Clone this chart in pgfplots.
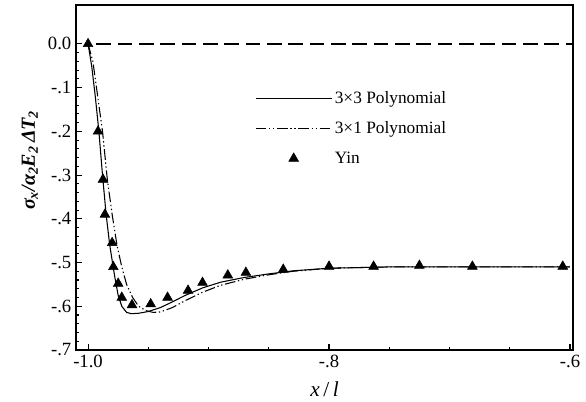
\documentclass[border=0pt]{standalone}
\usepackage{pgfplots}
\pgfplotsset{compat=1.18}
\usepackage{fontspec}
\setmainfont{Liberation Serif}

\pgfplotstableread{
x y
-1.000 0.000
-0.9917 -0.200
-0.9876 -0.310
-0.9860 -0.390
-0.9800 -0.455
-0.9790 -0.510
-0.9750 -0.548
-0.9720 -0.580
-0.9635 -0.597
-0.9480 -0.595
-0.9340 -0.580
-0.9170 -0.564
-0.9050 -0.546
-0.8840 -0.529
-0.8690 -0.523
-0.8380 -0.516
-0.8000 -0.509
-0.7630 -0.509
-0.7250 -0.507
-0.6810 -0.509
-0.6060 -0.509
}\yin

\pgfplotstableread{
x y
-1.000 0.000
-0.997 -0.050
-0.994 -0.120
-0.991 -0.200
-0.988 -0.300
-0.985 -0.390
-0.982 -0.460
-0.978 -0.530
-0.975 -0.575
-0.972 -0.600
-0.968 -0.614
-0.964 -0.617
-0.958 -0.616
-0.950 -0.612
-0.940 -0.603
-0.930 -0.590
-0.920 -0.576
-0.905 -0.558
-0.890 -0.545
-0.870 -0.534
-0.850 -0.526
-0.830 -0.519
-0.800 -0.513
-0.750 -0.510
-0.700 -0.510
-0.600 -0.510
}\polyA

\pgfplotstableread{
x y
-1.000 0.000
-0.996 -0.040
-0.992 -0.120
-0.988 -0.200
-0.984 -0.310
-0.980 -0.390
-0.976 -0.460
-0.972 -0.510
-0.968 -0.550
-0.963 -0.580
-0.958 -0.600
-0.952 -0.610
-0.946 -0.614
-0.940 -0.613
-0.930 -0.603
-0.920 -0.588
-0.905 -0.568
-0.890 -0.552
-0.870 -0.538
-0.850 -0.528
-0.830 -0.520
-0.800 -0.513
-0.750 -0.510
-0.700 -0.510
-0.600 -0.510
}\polyB

\begin{document}
\begin{tikzpicture}
\begin{axis}[
  name=ax,
  scale only axis,
  width=372.75pt, height=258.75pt,
  xmin=-1.01, xmax=-0.5975,
  ymin=-0.7, ymax=0.089,
  axis line style={line width=1pt},
  tick align=inside,
  xtick pos=bottom, ytick pos=left,
  xtick={-1,-0.8,-0.6},
  xticklabels={-1.0,-.8,-.6},
  minor x tick num=3,
  ytick={0,-0.1,-0.2,-0.3,-0.4,-0.5,-0.6,-0.7},
  yticklabels={0.0,-.1,-.2,-.3,-.4,-.5,-.6,-.7},
  minor y tick num=4,
  major tick length=4.5pt, minor tick length=2.5pt,
  every tick/.style={line width=0.8pt},
  tick label style={font=\fontsize{14}{16}\selectfont},
  xlabel={\textit{x}\,/\,\textit{l}},
  xlabel style={font=\fontsize{16}{18}\selectfont, at={(axis description cs:0.5,-0.113)}, anchor=center},
  ylabel={\bfseries\itshape σ\textsubscript{x}/α\textsubscript{2}E\textsubscript{2}\,ΔT\textsubscript{2}},
  ylabel style={font=\fontsize{15}{17}\selectfont, at={(axis description cs:-0.093,0.55)}, anchor=center},
  legend style={draw=none, fill=none, at={(axis description cs:0.352,0.765)}, anchor=north west,
    font=\fontsize{13}{15}\selectfont, row sep=8pt},
  legend cell align=left,
  legend image code/.code={\draw[mark repeat=2,mark phase=2,#1] plot coordinates {(0cm,0cm) (1cm,0cm) (2cm,0cm)};},
]
\addplot[black, line width=0.9pt, dash pattern=on 11pt off 5pt, forget plot] coordinates {(-0.993,0) (-0.5975,0)};
\addplot[black, line width=0.8pt] table {\polyA};
\addlegendentry{3×3 Polynomial}
\addplot[black, line width=0.8pt, dash pattern=on 8pt off 2pt on 1pt off 2pt on 1pt off 2pt] table {\polyB};
\addlegendentry{3×1 Polynomial}
\addplot[only marks, mark=triangle*, mark size=4.2pt, black] table {\yin};
\addlegendentry{Yin}
\end{axis}
\path ([xshift=-57pt,yshift=-39pt]ax.south west) rectangle ([xshift=9.75pt,yshift=3.75pt]ax.north east);
\end{tikzpicture}
\end{document}
